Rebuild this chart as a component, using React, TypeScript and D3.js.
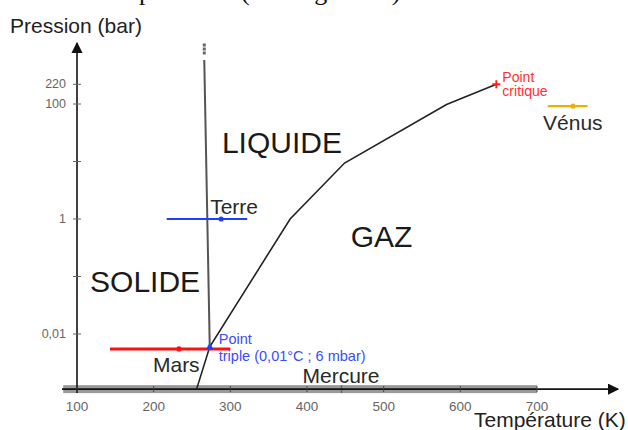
import React, { useEffect, useRef } from "react";
import * as d3 from "d3";

// phase boundaries of water (T in K, P in bar)
const vaporT = [256, 273.16, 378, 449, 582, 647];
const vaporP = [0.0011, 0.006, 1, 9.4, 98, 220];
const fusionT = [273.16, 266];
const fusionP = [0.006, 582];

const planets = ["Mars", "Terre", "Vénus", "Mercure"];
const planetTMin = [143, 217, 714, 82];
const planetTMax = [300, 322, 766, 700];
const planetTMean = [233, 288, 747, 445];
const planetP = [0.0055, 1, 92, 0.0011];

const xTicks = [100, 200, 300, 400, 500, 600, 700];
const yTicks = [220, 100, 10, 1, 0.1, 0.01];
const yTickLabels = ["220", "100", "", "1", "", "0,01"];

const phaseNames = ["LIQUIDE", "GAZ", "SOLIDE"];
const phaseT = [289, 457, 117];
const phaseP = [14, 0.33, 0.054];

const planetColor: Record<string, string> = {
  Mars: "#ff1010",
  Terre: "#1f3fff",
  Vénus: "#f0b000",
  Mercure: "#8c8c8c",
};

export default function App() {
  const ref = useRef<SVGSVGElement | null>(null);

  useEffect(() => {
    if (!ref.current) return;
    const svg = d3.select(ref.current);
    svg.selectAll("*").remove();

    const x = d3.scaleLinear().domain([100, 700]).range([77, 537]);
    const y = d3.scaleLog().domain([0.01, 100]).range([334, 104]);
    const axisY = y(0.0011);
    const font = "Arial, 'Liberation Sans', sans-serif";

    // heading line of the page above, cut off at the top edge
    const head = svg
      .append("text")
      .attr("y", 0)
      .attr("font-family", "'Liberation Serif', serif")
      .attr("font-size", 26)
      .attr("fill", "#111");
    head.append("tspan").attr("x", 139).text("pression");
    head.append("tspan").attr("x", 241).attr("letter-spacing", 1.5).text("(en degrés K)");

    // Mercure band along the x axis
    const mi = planets.indexOf("Mercure");
    svg
      .append("rect")
      .attr("x", x(planetTMin[mi]))
      .attr("y", axisY - 4)
      .attr("width", x(planetTMax[mi]) - x(planetTMin[mi]))
      .attr("height", 8)
      .attr("fill", "#9a9a9a");
    svg
      .append("line")
      .attr("x1", x(planetTMean[mi]))
      .attr("x2", x(planetTMean[mi]))
      .attr("y1", axisY - 4)
      .attr("y2", axisY + 4)
      .attr("stroke", "#666")
      .attr("stroke-width", 1.5);

    // axes
    const defs = svg.append("defs");
    defs
      .append("marker")
      .attr("id", "arr")
      .attr("viewBox", "0 0 10 10")
      .attr("refX", 9)
      .attr("refY", 5)
      .attr("markerWidth", 7)
      .attr("markerHeight", 7)
      .attr("orient", "auto")
      .append("path")
      .attr("d", "M0,0 L10,5 L0,10 z")
      .attr("fill", "#111");

    svg
      .append("line")
      .attr("x1", 62)
      .attr("x2", 618)
      .attr("y1", axisY)
      .attr("y2", axisY)
      .attr("stroke", "#111")
      .attr("stroke-width", 1.6)
      .attr("marker-end", "url(#arr)");
    svg
      .append("line")
      .attr("x1", x(100))
      .attr("x2", x(100))
      .attr("y1", axisY + 4)
      .attr("y2", 43)
      .attr("stroke", "#111")
      .attr("stroke-width", 1.6)
      .attr("marker-end", "url(#arr)");

    const xt = svg.append("g");
    xTicks.forEach((t) => {
      xt.append("line")
        .attr("x1", x(t))
        .attr("x2", x(t))
        .attr("y1", axisY - 3)
        .attr("y2", axisY + 3)
        .attr("stroke", "#444");
      xt.append("text")
        .attr("x", x(t))
        .attr("y", axisY + 22)
        .attr("text-anchor", "middle")
        .attr("font-family", font)
        .attr("font-size", 13.5)
        .attr("fill", "#666")
        .text(t);
    });

    const yt = svg.append("g");
    yTicks.forEach((t, i) => {
      yt.append("line")
        .attr("x1", x(100) - 4)
        .attr("x2", x(100) + 4)
        .attr("y1", y(t))
        .attr("y2", y(t))
        .attr("stroke", "#666");
      yt.append("text")
        .attr("x", x(100) - 11)
        .attr("y", y(t) + 4)
        .attr("text-anchor", "end")
        .attr("font-family", font)
        .attr("font-size", 12.5)
        .attr("fill", "#666")
        .text(yTickLabels[i]);
    });

    svg
      .append("text")
      .attr("x", 10)
      .attr("y", 33)
      .attr("font-family", font)
      .attr("font-size", 21)
      .attr("fill", "#222")
      .text("Pression (bar)");
    svg
      .append("text")
      .attr("x", 474)
      .attr("y", 427)
      .attr("font-family", font)
      .attr("font-size", 21)
      .attr("fill", "#222")
      .text("Température (K)");

    // phase boundaries
    const line = d3
      .line<[number, number]>()
      .x((d) => x(d[0]))
      .y((d) => y(d[1]));
    svg
      .append("path")
      .attr("d", line(vaporT.map((t, i) => [t, vaporP[i]]) as [number, number][]))
      .attr("fill", "none")
      .attr("stroke", "#222")
      .attr("stroke-width", 1.6);
    svg
      .append("path")
      .attr("d", line(fusionT.map((t, i) => [t, fusionP[i]]) as [number, number][]))
      .attr("fill", "none")
      .attr("stroke", "#555")
      .attr("stroke-width", 2);
    const topX = x(fusionT[1]);
    [45, 49, 53].forEach((yy) =>
      svg
        .append("rect")
        .attr("x", topX - 1.5)
        .attr("y", yy - 1.5)
        .attr("width", 3)
        .attr("height", 3)
        .attr("fill", "#666")
    );

    // phase labels
    phaseNames.forEach((n, i) => {
      svg
        .append("text")
        .attr("x", x(phaseT[i]))
        .attr("y", y(phaseP[i]))
        .attr("font-family", font)
        .attr("font-size", 30)
        .attr("fill", "#1a1a1a")
        .text(n);
    });

    // planets (except Mercure band)
    planets.forEach((n, i) => {
      if (n === "Mercure") return;
      const py = y(planetP[i]);
      svg
        .append("line")
        .attr("x1", x(planetTMin[i]))
        .attr("x2", x(planetTMax[i]))
        .attr("y1", py)
        .attr("y2", py)
        .attr("stroke", planetColor[n])
        .attr("stroke-width", n === "Mars" ? 3 : 2.2);
      svg
        .append("circle")
        .attr("cx", x(planetTMean[i]))
        .attr("cy", py)
        .attr("r", 2.6)
        .attr("fill", planetColor[n]);
    });

    const label = (t: string, lx: number, ly: number) =>
      svg
        .append("text")
        .attr("x", lx)
        .attr("y", ly)
        .attr("font-family", font)
        .attr("font-size", 21)
        .attr("fill", "#2a2a2a")
        .text(t);
    label("Mars", x(planetTMean[0]) - 26, y(planetP[0]) + 23);
    label("Terre", x(planetTMean[1]) - 11, y(planetP[1]) - 5);
    label("Vénus", x(planetTMean[2]) - 30, y(planetP[2]) + 24);
    label("Mercure", x(planetTMean[3]) - 39, axisY - 6);

    // triple point
    const tx = x(vaporT[1]);
    const ty = y(vaporP[1]);
    svg
      .append("path")
      .attr("d", `M${tx},${ty - 4} L${tx + 4},${ty + 3} L${tx - 4},${ty + 3} Z`)
      .attr("fill", "#1f3fff");
    const tp = svg
      .append("text")
      .attr("font-family", font)
      .attr("font-size", 14.5)
      .attr("fill", "#3a4cff");
    tp.append("tspan").attr("x", tx + 9).attr("y", ty - 3).text("Point");
    tp.append("tspan").attr("x", tx + 9).attr("y", ty + 14).text("triple (0,01°C ; 6 mbar)");

    // critical point
    const cx = x(vaporT[5]);
    const cy = y(vaporP[5]);
    svg
      .append("path")
      .attr("d", `M${cx - 4},${cy} H${cx + 4} M${cx},${cy - 4} V${cy + 4}`)
      .attr("stroke", "#ff2020")
      .attr("stroke-width", 2);
    const cp = svg
      .append("text")
      .attr("font-family", font)
      .attr("font-size", 14)
      .attr("fill", "#ff3030");
    cp.append("tspan").attr("x", cx + 6).attr("y", cy - 2).text("Point");
    cp.append("tspan").attr("x", cx + 6).attr("y", cy + 12).text("critique");
  });

  return <svg ref={ref} width={628} height={430} style={{ position: "absolute", left: 0, top: 0, background: "#fff" }} />;
}
